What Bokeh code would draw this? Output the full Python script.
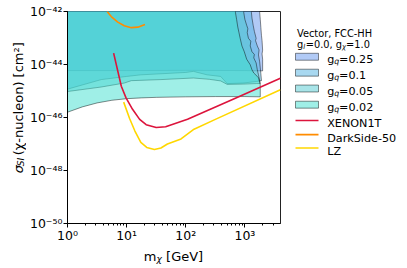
import math
from bokeh.plotting import figure
from bokeh.models import Range1d, FixedTicker, CustomJSTickFormatter, Label
from bokeh.layouts import row, column
from bokeh.embed import file_html
from bokeh.resources import INLINE

# ---------------- data (log10 of m_chi [GeV] and log10 of sigma_SI [cm^2]) ----------------
couplings = ["0.25", "0.1", "0.05", "0.02"]
fill_colors = ["#6495ED", "#51B1E1", "#51C9D1", "#40E0D0"]

# lower boundary of each excluded region (left -> right)
low_x_025 = [0.0, 1.0, 2.0, 3.0, 3.30]
low_y_025 = [-44.23, -44.23, -44.22, -44.23, -44.24]
low_x_01 = [0.0, 0.57, 1.0, 1.24, 1.75, 2.0, 2.13, 2.36, 2.59, 2.70, 2.97, 3.20, 3.28]
low_y_01 = [-44.93, -44.57, -44.45, -44.39, -44.33, -44.30, -44.26, -44.39, -44.45, -44.72, -44.70, -44.64, -44.61]
low_x_005 = [0.0, 0.57, 0.96, 1.08, 1.58, 2.13, 2.40, 2.59, 2.70, 2.97, 3.20, 3.26]
low_y_005 = [-45.02, -44.85, -44.70, -44.61, -44.57, -44.51, -44.56, -44.62, -44.75, -44.74, -44.72, -44.72]
low_x_002 = [0.0, 0.25, 0.5, 0.75, 1.0, 1.25, 1.5, 2.0, 2.5, 3.0, 3.26]
low_y_002 = [-45.80, -45.60, -45.45, -45.35, -45.29, -45.26, -45.24, -45.22, -45.21, -45.21, -45.22]

# right (high-mass) boundary of each region (bottom -> top)
right_x_025 = [3.30, 3.30, 3.29, 3.30, 3.29, 3.28, 3.27, 3.26, 3.25, 3.25]
right_y_025 = [-44.24, -43.80, -43.60, -43.46, -43.10, -42.90, -42.60, -42.30, -42.03, -41.50]
right_x_01 = [3.28, 3.27, 3.26, 3.25, 3.23, 3.24, 3.21, 3.18, 3.19, 3.16, 3.14, 3.12, 3.11, 3.11]
right_y_01 = [-44.61, -44.35, -44.13, -43.90, -43.64, -43.45, -43.30, -43.10, -43.01, -42.75, -42.52, -42.25, -42.03, -41.50]
right_x_005 = [3.26, 3.23, 3.21, 3.19, 3.15, 3.16, 3.12, 3.09, 3.10, 3.06, 3.04, 3.05, 3.03, 3.00, 2.98, 2.98]
right_y_005 = [-44.72, -44.39, -44.20, -43.94, -43.75, -43.62, -43.52, -43.30, -43.12, -43.01, -42.80, -42.65, -42.52, -42.30, -42.03, -41.50]
right_x_002 = [3.26, 3.26, 3.23, 3.21, 3.15, 3.12, 3.09, 3.03, 2.99, 2.95, 2.92, 2.90, 2.88, 2.86, 2.84, 2.84]
right_y_002 = [-45.22, -44.76, -44.50, -44.45, -44.32, -44.20, -44.01, -43.80, -43.52, -43.30, -43.01, -42.80, -42.59, -42.30, -42.03, -41.50]

# direct detection limits
xenon_x = [0.78, 0.91, 0.99, 1.10, 1.22, 1.33, 1.50, 1.66, 2.03, 2.81, 3.60]
xenon_y = [-43.57, -44.82, -45.26, -45.69, -46.07, -46.27, -46.38, -46.35, -46.07, -45.30, -44.52]
ds50_x = [0.67, 0.74, 0.85, 0.96, 1.08, 1.19, 1.31]
ds50_y = [-42.00, -42.19, -42.40, -42.54, -42.61, -42.59, -42.49]
lz_x = [0.95, 1.05, 1.14, 1.24, 1.34, 1.47, 1.58, 1.69, 1.92, 2.14, 2.50, 3.60]
lz_y = [-45.42, -46.04, -46.51, -46.94, -47.13, -47.21, -47.15, -47.00, -46.81, -46.44, -46.07, -44.95]
line_names = ["XENON1T", "DarkSide-50", "LZ"]
line_colors = ["#DC143C", "#FF8C00", "#FFD700"]

x_major = [1, 10, 100, 1000]
y_major = [1e-50, 1e-48, 1e-46, 1e-44, 1e-42]

FONT = "DejaVu Sans"
EDGE = dict(line_color="black", line_alpha=0.45, line_width=1)
H = 245  # height of the top row


def blank(width, height, xr, yr):
    f = figure(width=width, height=height, x_range=Range1d(*xr), y_range=Range1d(*yr),
               output_backend="svg", toolbar_location=None, min_border=0,
               x_axis_location=None, y_axis_location=None)
    f.grid.visible = False
    f.outline_line_color = None
    f.border_fill_color = "white"
    f.background_fill_color = "white"
    return f


def lab(fig, x, y, text, size, style="normal", angle=0.0):
    fig.add_layout(Label(x=x, y=y, x_units="data", y_units="data", text=text,
                         text_font=FONT, text_font_size=f"{size}px", text_font_style=style,
                         text_align="left", text_baseline="alphabetic", angle=angle,
                         text_color="black"))


# ---------------- main plot ----------------
YLW = 26
p = figure(width=283 - YLW, height=H, x_axis_type="log", y_axis_type="log",
           x_range=Range1d(1, 4000), y_range=Range1d(1e-50, 1e-42),
           output_backend="svg", toolbar_location=None,
           min_border_left=66 - YLW, min_border_right=3, min_border_top=11, min_border_bottom=19)
p.grid.visible = False
p.outline_line_color = "#222222"
p.outline_line_width = 1
p.background_fill_color = "white"
p.border_fill_color = "white"

regions = [
    (low_x_025, low_y_025, right_x_025, right_y_025),
    (low_x_01, low_y_01, right_x_01, right_y_01),
    (low_x_005, low_y_005, right_x_005, right_y_005),
    (low_x_002, low_y_002, right_x_002, right_y_002),
]
for (lx, ly, rx, ry), col in zip(regions, fill_colors):
    px = lx + rx + [lx[0]]
    py = ly + ry + [ry[-1]]
    p.patch([10 ** v for v in px], [10 ** v for v in py],
            fill_color=col, fill_alpha=0.5, **EDGE)

for xs, ys, col in zip([xenon_x, ds50_x, lz_x], [xenon_y, ds50_y, lz_y], line_colors):
    p.line([10 ** v for v in xs], [10 ** v for v in ys], line_color=col, line_width=1.6)

sup_code = """
const sup = {"-": "\u207b", "0": "\u2070", "1": "\u00b9", "2": "\u00b2", "3": "\u00b3",
             "4": "\u2074", "5": "\u2075", "6": "\u2076", "7": "\u2077", "8": "\u2078", "9": "\u2079"};
const e = Math.round(Math.log10(tick));
return "10" + String(e).split("").map(c => sup[c]).join("");
"""
minor_x = [m * d for d in x_major for m in range(2, 10) if m * d < 4000]
p.xaxis.ticker = FixedTicker(ticks=x_major, minor_ticks=minor_x)
p.yaxis.ticker = FixedTicker(ticks=y_major, minor_ticks=[])
for ax in (p.xaxis[0], p.yaxis[0]):
    ax.formatter = CustomJSTickFormatter(code=sup_code)
    ax.major_label_text_font = FONT
    ax.major_label_text_font_size = "12.5px"
    ax.major_label_text_color = "black"
    ax.major_tick_in = 0
    ax.major_tick_out = 4
    ax.minor_tick_in = 0
    ax.minor_tick_out = 2
    ax.axis_line_color = "black"
    ax.major_tick_line_color = "black"
    ax.minor_tick_line_color = "black"
p.xaxis.major_label_standoff = 0
p.yaxis.major_label_standoff = 1
p.yaxis.minor_tick_line_color = None

AX = 13.0
SUB = AX * 0.7
SP = 0.318  # width of a space, in em

# ---------------- y axis label panel: sigma_SI (chi-nucleon) [cm^2] ----------------
yl = blank(YLW, H, (0, YLW), (H, 0))
ang = math.pi / 2
xb, yb = 18.0, 187.0
lab(yl, xb, yb, "\u03c3", AX, "italic", ang)
yb -= 0.634 * AX
lab(yl, xb + 2.6, yb, "SI", SUB, "italic", ang)
yb -= 0.93 * SUB + SP * AX
lab(yl, xb, yb, "(\u03c7-nucleon) [cm\u00b2]", AX, "normal", ang)

# ---------------- legend panel ----------------
LW = 124
lg = blank(LW, H, (0, LW), (H, 0))
FT = 9.8
FTS = FT * 0.7
lab(lg, 13.5, 25.7, "Vector, FCC-HH", FT)
tx = 13.5
lab(lg, tx, 38.3, "g", FT)
tx += 0.635 * FT
lab(lg, tx, 40.6, "l", FTS, "italic")
tx += 0.278 * FTS + 0.6
lab(lg, tx, 38.3, "=0.0,", FT)
tx += (0.838 + 0.636 * 2 + 0.318 * 2 + SP) * FT
lab(lg, tx, 38.3, "g", FT)
tx += 0.635 * FT
lab(lg, tx, 40.6, "\u03c7", FTS, "italic")
tx += 0.6 * FTS
lab(lg, tx, 38.3, "=1.0", FT)

F = 11.2
FS = F * 0.7
patch_y = [52.3, 70.7, 89.0, 107.7]
for yc, col, cval in zip(patch_y, fill_colors, couplings):
    lg.rect(x=[23.5], y=[yc], width=23, height=8, fill_color=col, fill_alpha=0.5, **EDGE)
    t = 43.7
    lab(lg, t, yc + 3.5, "g", F)
    t += 0.635 * F
    lab(lg, t, yc + 6.0, "q", FS, "italic")
    t += 0.6 * FS
    lab(lg, t, yc + 3.5, "=" + cval, F)

line_y = [126.0, 142.3, 157.7]
for yc, col, name in zip(line_y, line_colors, line_names):
    lg.segment(x0=[12], y0=[yc], x1=[35], y1=[yc], line_color=col, line_width=1.6)
    lab(lg, 43.7, yc + 3.9, name, F)

# ---------------- x axis label strip: m_chi [GeV] ----------------
XS_H = 20
xl = blank(407, XS_H, (0, 407), (H + XS_H, H))
x0 = 143.3
lab(xl, x0, 255.7, "m", AX)
x0 += 0.974 * AX
lab(xl, x0, 258.2, "\u03c7", SUB, "italic")
x0 += 0.6 * SUB + SP * AX
lab(xl, x0, 255.7, "[GeV]", AX)

layout = column(row(yl, p, lg), xl)
open("out.html", "w").write(file_html(layout, INLINE))
